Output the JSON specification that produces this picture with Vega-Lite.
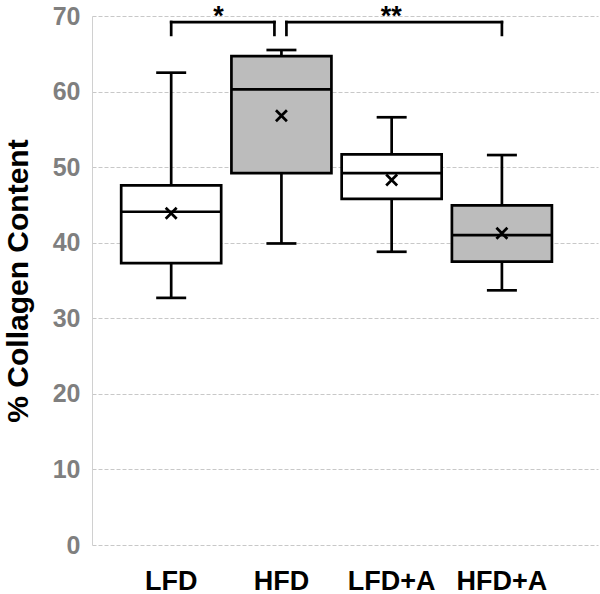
{
  "$schema": "https://vega.github.io/schema/vega-lite/v6.json",
  "width": 506,
  "height": 529,
  "autosize": {"type": "none"},
  "padding": {"left": 92, "top": 16, "right": 2, "bottom": 49},
  "background": "white",
  "config": {
    "view": {"stroke": null},
    "font": "Liberation Sans",
    "axisX": {"domain": false, "ticks": false, "tickSize": 0, "grid": false, "labelFont": "Liberation Sans", "labelFontSize": 27, "labelFontWeight": "bold", "labelColor": "black", "labelPadding": 23, "labelAngle": 0},
    "axisY": {"domain": true, "domainColor": "#d0d0d0", "domainWidth": 1, "ticks": false, "tickSize": 0, "grid": true, "gridColor": "#c8c8c8", "gridDash": [4, 2], "gridWidth": 1, "labelFont": "Liberation Sans", "labelFontSize": 25, "labelFontWeight": "bold", "labelColor": "#7f7f7f", "labelPadding": 12, "titleFont": "Liberation Sans", "titleFontSize": 30, "titleFontWeight": "bold", "titleColor": "black", "titlePadding": 19, "tickCount": 7}
  },
  "datasets": {
    "stats": [
      {"group": "LFD", "diet": "LFD", "low": 32.7, "q1": 37.3, "median": 44.1, "q3": 47.6, "high": 62.5, "mean": 43.9},
      {"group": "HFD", "diet": "HFD", "low": 39.9, "q1": 49.2, "median": 60.3, "q3": 64.7, "high": 65.5, "mean": 56.8},
      {"group": "LFD+A", "diet": "LFD", "low": 38.8, "q1": 45.8, "median": 49.2, "q3": 51.7, "high": 56.6, "mean": 48.3},
      {"group": "HFD+A", "diet": "HFD", "low": 33.7, "q1": 37.5, "median": 41.0, "q3": 44.95, "high": 51.6, "mean": 41.25}
    ],
    "brackets": [
      {"label": "*", "from": "LFD", "to": "HFD", "top": 69.2, "leg": 67.5},
      {"label": "**", "from": "HFD", "to": "HFD+A", "top": 69.2, "leg": 67.5}
    ]
  },
  "layer": [
    {
      "data": {"name": "stats"},
      "mark": {"type": "rule", "stroke": "black", "strokeWidth": 2.7},
      "encoding": {
        "x": {"field": "group", "type": "nominal", "title": null, "scale": {"domain": ["LFD", "HFD", "LFD+A", "HFD+A"], "paddingInner": 0, "paddingOuter": 0.295, "align": 0.37}},
        "y": {"field": "low", "type": "quantitative", "title": "% Collagen Content", "axis": {"title": "% Collagen Content"}, "scale": {"domain": [0, 70], "nice": false}},
        "y2": {"field": "high"}
      }
    },
    {
      "data": {"name": "stats"},
      "mark": {"type": "bar", "size": 100, "stroke": "black", "strokeWidth": 2.7},
      "encoding": {
        "x": {"field": "group", "type": "nominal", "title": null},
        "y": {"field": "q1", "type": "quantitative"},
        "y2": {"field": "q3"},
        "fill": {"field": "diet", "type": "nominal", "scale": {"domain": ["LFD", "HFD"], "range": ["#ffffff", "#bcbcbc"]}, "legend": null}
      }
    },
    {
      "data": {"name": "stats"},
      "mark": {"type": "tick", "size": 100, "thickness": 2.7, "color": "black", "opacity": 1},
      "encoding": {
        "x": {"field": "group", "type": "nominal", "title": null},
        "y": {"field": "median", "type": "quantitative"}
      }
    },
    {
      "data": {"name": "stats"},
      "mark": {"type": "tick", "size": 30, "thickness": 2.7, "color": "black", "opacity": 1},
      "encoding": {
        "x": {"field": "group", "type": "nominal", "title": null},
        "y": {"field": "high", "type": "quantitative"}
      }
    },
    {
      "data": {"name": "stats"},
      "mark": {"type": "tick", "size": 30, "thickness": 2.7, "color": "black", "opacity": 1},
      "encoding": {
        "x": {"field": "group", "type": "nominal", "title": null},
        "y": {"field": "low", "type": "quantitative"}
      }
    },
    {
      "data": {"name": "stats"},
      "mark": {"type": "point", "shape": "M-1,-1L1,1M-1,1L1,-1", "size": 120, "filled": false, "stroke": "black", "strokeWidth": 2.7, "opacity": 1},
      "encoding": {
        "x": {"field": "group", "type": "nominal", "title": null},
        "y": {"field": "mean", "type": "quantitative"}
      }
    },
    {
      "data": {"name": "brackets"},
      "transform": [{"filter": "datum.label === '*'"}],
      "layer": [
        {
          "mark": {"type": "rule", "stroke": "black", "strokeWidth": 2.7, "strokeCap": "square", "x2Offset": -7},
          "encoding": {
            "x": {"field": "from", "type": "nominal", "title": null},
            "x2": {"field": "to"},
            "y": {"field": "top", "type": "quantitative"}
          }
        },
        {
          "mark": {"type": "rule", "stroke": "black", "strokeWidth": 2.7, "strokeCap": "square"},
          "encoding": {
            "x": {"field": "from", "type": "nominal", "title": null},
            "y": {"field": "leg", "type": "quantitative"},
            "y2": {"field": "top"}
          }
        },
        {
          "mark": {"type": "rule", "stroke": "black", "strokeWidth": 2.7, "strokeCap": "square", "xOffset": -7},
          "encoding": {
            "x": {"field": "to", "type": "nominal", "title": null},
            "y": {"field": "leg", "type": "quantitative"},
            "y2": {"field": "top"}
          }
        },
        {
          "mark": {"type": "text", "fontSize": 27, "fontWeight": "bold", "font": "Liberation Sans", "baseline": "alphabetic", "align": "center", "color": "black"},
          "encoding": {
            "x": {"field": "from", "type": "nominal", "title": null, "bandPosition": 0.93},
            "y": {"datum": 68.85, "type": "quantitative"},
            "text": {"field": "label"}
          }
        }
      ]
    },
    {
      "data": {"name": "brackets"},
      "transform": [{"filter": "datum.label === '**'"}],
      "layer": [
        {
          "mark": {"type": "rule", "stroke": "black", "strokeWidth": 2.7, "strokeCap": "square", "xOffset": 5},
          "encoding": {
            "x": {"field": "from", "type": "nominal", "title": null},
            "x2": {"field": "to"},
            "y": {"field": "top", "type": "quantitative"}
          }
        },
        {
          "mark": {"type": "rule", "stroke": "black", "strokeWidth": 2.7, "strokeCap": "square", "xOffset": 5},
          "encoding": {
            "x": {"field": "from", "type": "nominal", "title": null},
            "y": {"field": "leg", "type": "quantitative"},
            "y2": {"field": "top"}
          }
        },
        {
          "mark": {"type": "rule", "stroke": "black", "strokeWidth": 2.7, "strokeCap": "square"},
          "encoding": {
            "x": {"field": "to", "type": "nominal", "title": null},
            "y": {"field": "leg", "type": "quantitative"},
            "y2": {"field": "top"}
          }
        },
        {
          "mark": {"type": "text", "fontSize": 27, "fontWeight": "bold", "font": "Liberation Sans", "baseline": "alphabetic", "align": "center", "color": "black", "letterSpacing": 2},
          "encoding": {
            "x": {"field": "from", "type": "nominal", "title": null, "bandPosition": 1.497},
            "y": {"datum": 68.85, "type": "quantitative"},
            "text": {"field": "label"}
          }
        }
      ]
    }
  ]
}
